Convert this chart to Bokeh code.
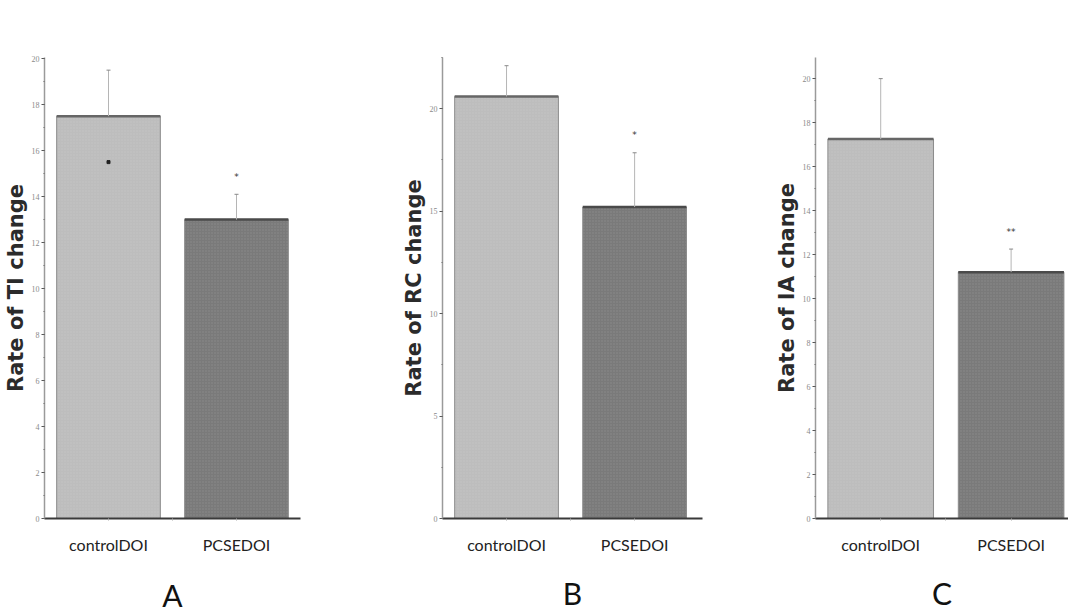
from bokeh.plotting import figure
from bokeh.layouts import row
from bokeh.models import FixedTicker, Range1d
from bokeh.core.properties import value
from bokeh.embed import file_html
from bokeh.resources import INLINE

# ---- data ----
groups = ["controlDOI", "PCSEDOI"]
x_pos = [1, 2]

ti_means = [17.5, 13.0]
ti_err = [2.0, 1.1]
ti_sig = ["", "*"]

rc_means = [20.6, 15.2]
rc_err = [1.5, 2.65]
rc_sig = ["", "*"]

ia_means = [17.25, 11.2]
ia_err = [2.75, 1.05]
ia_sig = ["", "**"]

panel_letters = ["A", "B", "C"]
y_labels = ["Rate of TI change", "Rate of RC change", "Rate of IA change"]

bar_fill = ["#bdbdbd", "#7a7a7a"]
bar_top = ["#666666", "#4a4a4a"]
BAR_W = 0.81
H = 615


def panel(means, errs, sigs, ylabel, letter, y_end, x_end, major, minor,
          width, left, right, top, bottom, letter_standoff, lower_dot=False):
    p = figure(width=width, height=H, output_backend="svg", toolbar_location=None,
               x_range=Range1d(0.5, x_end), y_range=Range1d(0, y_end),
               min_border_left=left, min_border_right=right,
               min_border_top=top, min_border_bottom=bottom,
               background_fill_color="white", border_fill_color="white")
    p.outline_line_color = None
    p.xgrid.grid_line_color = None
    p.ygrid.grid_line_color = None

    src = dict(x=x_pos, top=means, fill=bar_fill, edge=bar_top)
    p.vbar(x="x", top="top", width=BAR_W, bottom=0, source=src,
           fill_color="fill", line_color="#8c8c8c", line_width=1,
           hatch_pattern="dot", hatch_color="white", hatch_alpha=0.12, hatch_scale=3)
    # dark top edge of bars
    p.segment(x0=[x - BAR_W / 2 for x in x_pos], x1=[x + BAR_W / 2 for x in x_pos],
              y0=means, y1=means, line_color=bar_top, line_width=2.5)
    # upper error bars
    ups = [m + e for m, e in zip(means, errs)]
    p.segment(x0=x_pos, x1=x_pos, y0=means, y1=ups, line_color="#b5b5b5", line_width=1)
    p.scatter(x=x_pos, y=ups, marker="dash", size=4, line_color="#888888", line_width=1)
    if lower_dot:
        p.scatter(x=[x_pos[0]], y=[means[0] - errs[0]], marker="square", size=3,
                  fill_color="#222222", line_color="#222222")
    # significance marks
    sig_y = [u + 0.75 * (y_end / 20.0) for u in ups]
    p.text(x=x_pos, y=sig_y, text=sigs, text_align="center", text_baseline="middle",
           text_font=value("DejaVu Sans"), text_font_size="9px", text_color="#333333")

    # y axis
    ya = p.yaxis[0]
    ya.ticker = FixedTicker(ticks=major, minor_ticks=minor)
    ya.axis_label = ylabel
    ya.axis_label_text_font = "DejaVu Sans"
    ya.axis_label_text_font_style = "bold"
    ya.axis_label_text_font_size = "21px"
    ya.axis_label_text_color = "#2b2b2b"
    ya.axis_label_standoff = 1
    ya.major_label_text_font = "Liberation Sans Narrow"
    ya.major_label_text_font_size = "8px"
    ya.major_label_text_color = "#8a8a8a"
    ya.major_label_standoff = 2
    ya.axis_line_color = "#9a9a9a"
    ya.axis_line_width = 1.5
    ya.major_tick_line_color = "#555555"
    ya.major_tick_in = 0
    ya.major_tick_out = 3
    ya.minor_tick_line_color = "#666666"
    ya.minor_tick_in = 0
    ya.minor_tick_out = 1

    # x axis
    xa = p.xaxis[0]
    xa.ticker = FixedTicker(ticks=x_pos, minor_ticks=[1.5])
    xa.major_label_overrides = {x: g for x, g in zip(x_pos, groups)}
    xa.major_label_text_font = "Lato"
    xa.major_label_text_font_size = "16px"
    xa.major_label_text_color = "#222222"
    xa.major_label_standoff = 14
    xa.axis_line_color = "#3a3a3a"
    xa.axis_line_width = 2
    xa.major_tick_line_color = "#aaaaaa"
    xa.major_tick_in = 0
    xa.major_tick_out = 2
    xa.minor_tick_line_color = "#aaaaaa"
    xa.minor_tick_in = 0
    xa.minor_tick_out = 2
    xa.axis_label = letter
    xa.axis_label_text_font = "Lato"
    xa.axis_label_text_font_style = "normal"
    xa.axis_label_text_font_size = "30px"
    xa.axis_label_text_color = "#111111"
    xa.axis_label_standoff = letter_standoff
    return p


pa = panel(ti_means, ti_err, ti_sig, y_labels[0], panel_letters[0], 20.05, 2.5,
           list(range(0, 21, 2)), list(range(0, 21, 1)),
           375, 44, 75, 57, H - 518, 20, lower_dot=True)
pb = panel(rc_means, rc_err, rc_sig, y_labels[1], panel_letters[1], 22.5, 2.53,
           [0, 5, 10, 15, 20], [0, 2.5, 5, 7.5, 10, 12.5, 15, 17.5, 20, 22.5],
           377, 67, 50, 15, H - 520, 18)
pc = panel(ia_means, ia_err, ia_sig, y_labels[2], panel_letters[2], 20.96, 2.44,
           list(range(0, 21, 2)), list(range(0, 21, 1)),
           316, 63, 0, 16, H - 520, 18)

layout = row(pa, pb, pc, spacing=0)
open("out.html", "w").write(file_html(layout, INLINE))
